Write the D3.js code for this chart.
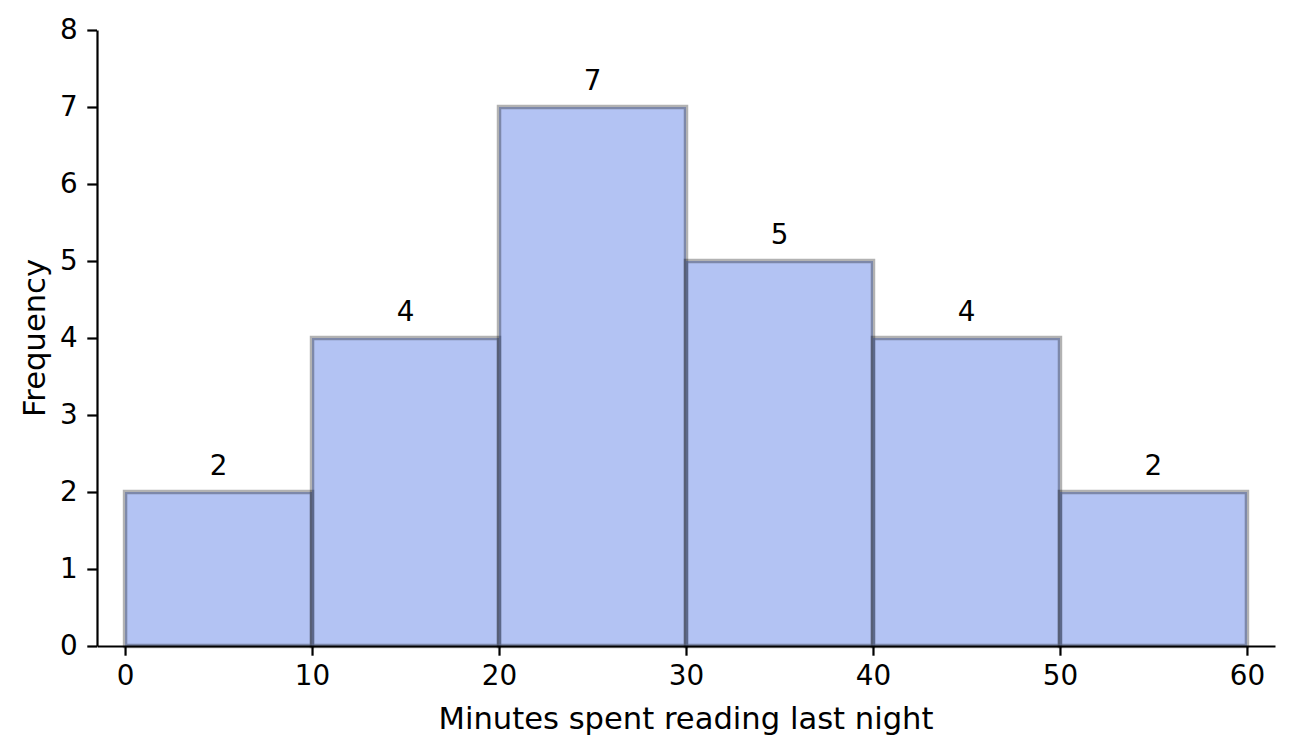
<!DOCTYPE html>
<html>
<head>
<meta charset="utf-8">
<script src="https://cdn.jsdelivr.net/npm/d3@7"></script>
<style>
    body { margin: 0; background: #fff; }
    text { font-family: "DejaVu Sans", sans-serif; fill: #000; }
</style>
</head>
<body>
<svg id="chart" width="1295" height="754"></svg>
<script>
// bins of the histogram
var binEdges = [0, 10, 20, 30, 40, 50, 60];
var counts = [2, 4, 7, 5, 4, 2];
var xTicks = [0, 10, 20, 30, 40, 50, 60];
var yTicks = [0, 1, 2, 3, 4, 5, 6, 7, 8];
var xLabel = "Minutes spent reading last night";
var yLabel = "Frequency";

var svg = d3.select("#chart");
var fontSize = 27.8;
var labelSize = 30.6;

var x = d3.scaleLinear().domain([-1.5, 61.5]).range([97, 1275]);
var y = d3.scaleLinear().domain([0, 8]).range([646, 30]);

// Bars
var bins = counts.map(function (c, i) {
    return { x0: binEdges[i], x1: binEdges[i + 1], n: c };
});

svg.append("g")
    .selectAll("rect")
    .data(bins)
    .enter()
    .append("rect")
    .attr("x", function (d) { return x(d.x0); })
    .attr("y", function (d) { return y(d.n); })
    .attr("width", function (d) { return x(d.x1) - x(d.x0); })
    .attr("height", function (d) { return y(0) - y(d.n); })
    .attr("fill", "royalblue")
    .attr("fill-opacity", 0.4)
    .attr("stroke", "#000")
    .attr("stroke-opacity", 0.3)
    .attr("stroke-width", 4.5);

// Count labels
svg.append("g")
    .selectAll("text")
    .data(bins)
    .enter()
    .append("text")
    .attr("x", function (d) { return x((d.x0 + d.x1) / 2); })
    .attr("y", function (d) { return y(d.n) - 17; })
    .attr("text-anchor", "middle")
    .style("font-size", fontSize + "px")
    .text(function (d) { return d.n; });

// Axes
var xAxis = d3.axisBottom(x)
    .tickValues(xTicks)
    .tickSize(9.7)
    .tickPadding(9.7)
    .tickSizeOuter(0);

var yAxis = d3.axisLeft(y)
    .tickValues(yTicks)
    .tickSize(9.7)
    .tickPadding(9.7)
    .tickSizeOuter(0);

var gx = svg.append("g")
    .attr("transform", "translate(0," + y(0) + ")")
    .call(xAxis);

var gy = svg.append("g")
    .attr("transform", "translate(" + x(-1.5) + ",0)")
    .call(yAxis);

[gx, gy].forEach(function (g) {
    g.selectAll("path.domain").attr("stroke", "#000").attr("stroke-width", 2.2);
    g.selectAll(".tick line").attr("stroke", "#000").attr("stroke-width", 2.2);
    g.selectAll(".tick text")
        .style("font-family", "DejaVu Sans, sans-serif")
        .style("font-size", fontSize + "px")
        .attr("fill", "#000");
});

// Axis labels
svg.append("text")
    .attr("x", (x.range()[0] + x.range()[1]) / 2)
    .attr("y", 729)
    .attr("text-anchor", "middle")
    .style("font-size", labelSize + "px")
    .text(xLabel);

svg.append("text")
    .attr("transform", "translate(45," + (y.range()[0] + y.range()[1]) / 2 + ") rotate(-90)")
    .attr("text-anchor", "middle")
    .style("font-size", labelSize + "px")
    .text(yLabel);
</script>
</body>
</html>
